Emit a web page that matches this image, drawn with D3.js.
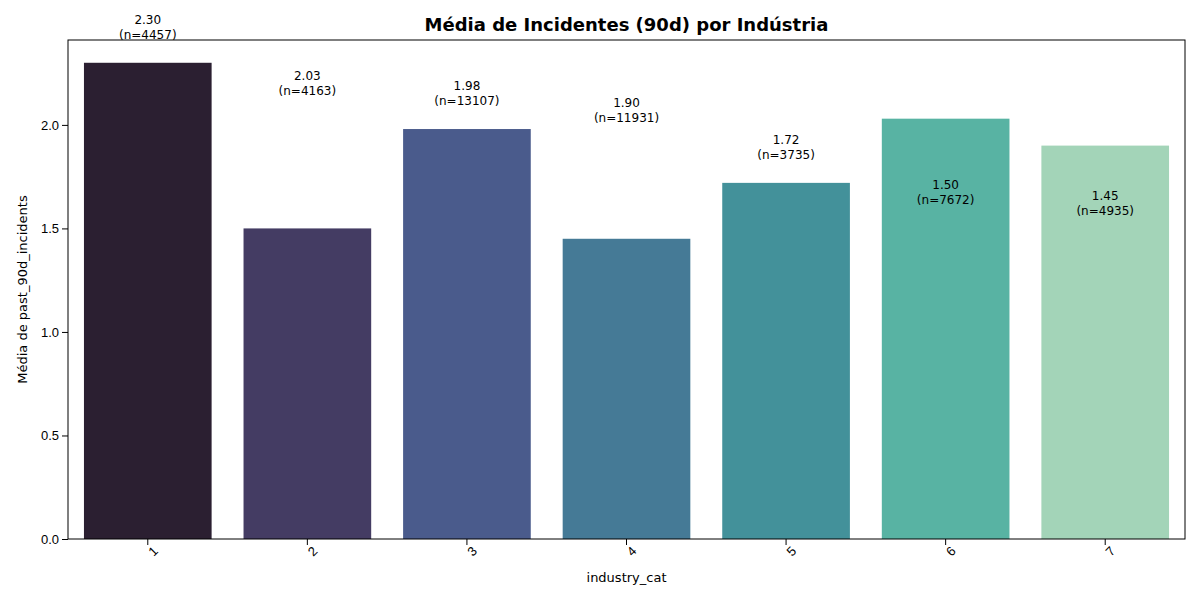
<!DOCTYPE html>
<html><head><meta charset="utf-8">
<script src="https://cdn.jsdelivr.net/npm/d3@7"></script>
<style>body{margin:0;background:#fff;font-family:"DejaVu Sans",sans-serif;}</style>
</head><body><div id="chart"></div>
<script>
// categories and bar values
var categories = ["1", "2", "3", "4", "5", "6", "7"];
var means = [2.30, 1.50, 1.98, 1.45, 1.72, 2.03, 1.90];
// annotation labels as drawn (value text and n)
var labelValues = [2.30, 2.03, 1.98, 1.90, 1.72, 1.50, 1.45];
var labelCounts = [4457, 4163, 13107, 11931, 3735, 7672, 4935];
var yTicks = [0, 0.5, 1.0, 1.5, 2.0];
var colors = ["#2b1f31", "#443c63", "#4a5b8c", "#457a96", "#43919a", "#58b3a3", "#a3d4b8"];

var width = 1200, height = 600;
var margins = {top: 40, bottom: 61, left: 68, right: 15};
var svg = d3.select('#chart').append('svg').attr('width', width).attr('height', height);
var plotW = width - margins.left - margins.right;
var plotH = height - margins.top - margins.bottom;
var g = svg.append('g').attr('transform', 'translate(' + margins.left + ',' + margins.top + ')');

var xScale = d3.scaleBand().domain(categories).range([0, plotW]).paddingInner(0.2).paddingOuter(0.1);
var yScale = d3.scaleLinear().domain([0, 2.41]).range([plotH, 0]);

g.selectAll('.bar').data(means).enter().append('rect')
    .attr('x', function (d, i) { return xScale(categories[i]); })
    .attr('y', function (d) { return yScale(d); })
    .attr('width', xScale.bandwidth())
    .attr('height', function (d) { return plotH - yScale(d); })
    .style('fill', function (d, i) { return colors[i]; });

var labels = g.selectAll('.lab').data(labelValues).enter().append('text')
    .attr('text-anchor', 'middle')
    .style('font-size', '12px');
labels.append('tspan')
    .attr('x', function (d, i) { return xScale(categories[i]) + xScale.bandwidth() / 2; })
    .attr('y', function (d) { return yScale(d) - 39; })
    .text(function (d) { return d.toFixed(2); });
labels.append('tspan')
    .attr('x', function (d, i) { return xScale(categories[i]) + xScale.bandwidth() / 2; })
    .attr('y', function (d) { return yScale(d) - 24; })
    .text(function (d, i) { return '(n=' + labelCounts[i] + ')'; });

var yAxis = g.append('g').call(d3.axisLeft(yScale).tickValues(yTicks).tickFormat(d3.format('.1f')).tickSizeOuter(0));
yAxis.selectAll('text').style('font-size', '13px').style('fill', '#000');
var xAxis = g.append('g').attr('transform', 'translate(0,' + plotH + ')')
    .call(d3.axisBottom(xScale).tickSizeOuter(0));
xAxis.selectAll('text').style('font-size', '13px').style('fill', '#000')
    .attr('text-anchor', 'end').attr('dx', '-0.1em').attr('dy', '0.6em')
    .attr('transform', 'rotate(-45)');
g.selectAll('.domain').remove();
g.append('rect').attr('width', plotW).attr('height', plotH).style('fill', 'none').style('stroke', '#000');

svg.append('text').attr('x', margins.left + plotW / 2).attr('y', 31).attr('text-anchor', 'middle')
    .style('font-size', '18px').style('font-weight', 'bold').text('Média de Incidentes (90d) por Indústria');
svg.append('text').attr('x', margins.left + plotW / 2).attr('y', 582).attr('text-anchor', 'middle')
    .style('font-size', '13px').text('industry_cat');
svg.append('text').attr('transform', 'translate(27,' + (margins.top + plotH / 2) + ') rotate(-90)')
    .attr('text-anchor', 'middle').style('font-size', '13px').text('Média de past_90d_incidents');
</script></body></html>
